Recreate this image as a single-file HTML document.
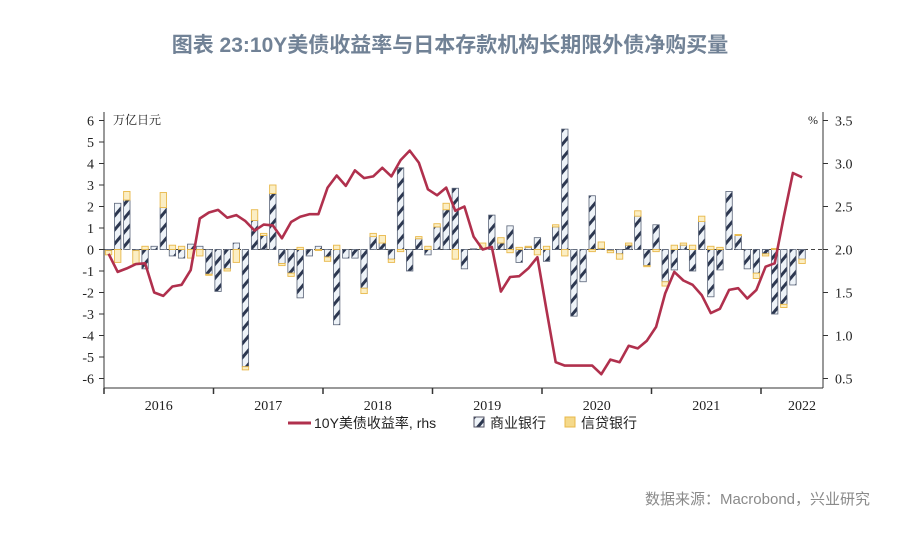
<!DOCTYPE html>
<html><head><meta charset="utf-8"><style>
body{margin:0;background:#fff;width:900px;height:548px;overflow:hidden}
svg{display:block;font-family:"Liberation Serif","Noto Serif CJK SC",serif}
</style></head><body>
<svg id="chart" width="900" height="548">
<defs>
<pattern id="hatch" patternUnits="userSpaceOnUse" width="9" height="9" patternTransform="rotate(40)">
<rect width="9" height="9" fill="#eef3f8"/><rect width="3" height="9" fill="#2c3750"/></pattern>
</defs>
<text x="450" y="52" text-anchor="middle" font-family="'Liberation Sans','Noto Sans CJK SC',sans-serif" font-size="21" font-weight="bold" fill="#718296">图表 23:10Y美债收益率与日本存款机构长期限外债净购买量</text>
<text x="113" y="124" font-size="12" fill="#222">万亿日元</text>
<text x="808" y="124" font-size="12" fill="#222">%</text>
<g id="bars"></g>
<g id="axes"></g>
<path id="yield" fill="none" stroke="#b0304d" stroke-width="2.6" stroke-linejoin="round"/>
<g font-family="'Liberation Sans','Noto Sans CJK SC',sans-serif" font-size="14" fill="#222">
<line x1="288" y1="423" x2="311" y2="423" stroke="#b0304d" stroke-width="3"/>
<text x="314" y="428">10Y美债收益率, rhs</text>
<rect x="474" y="417" width="10" height="10" fill="url(#hatch)" stroke="#556"/>
<text x="490" y="428">商业银行</text>
<rect x="565" y="417" width="10" height="10" fill="#f5d98a" stroke="#e8b84a"/>
<text x="581" y="428">信贷银行</text>
</g>
<text x="870" y="504" text-anchor="end" font-family="'Liberation Sans','Noto Sans CJK SC',sans-serif" font-size="15" fill="#8a8a8a">数据来源：Macrobond，兴业研究</text>
</svg>
<script>
const commercial=[-0.05,2.15,2.3,-0.05,-0.9,0.15,1.95,-0.3,-0.4,0.25,0.15,-1.15,-1.95,-0.9,0.3,-5.45,1.35,0.65,2.6,-0.65,-1.1,-2.25,-0.3,0.15,-0.35,-3.5,-0.4,-0.4,-1.8,0.6,0.3,-0.45,3.8,-1.0,0.5,-0.25,1.05,1.85,2.85,-0.9,0.03,0.05,1.6,0.3,1.1,-0.6,0.1,0.55,-0.55,1.05,5.6,-3.1,-1.5,2.5,0.05,-0.05,-0.2,0.2,1.55,-0.75,1.15,-1.5,-0.95,0.2,-1.0,1.3,-2.2,-0.95,2.7,0.65,-0.9,-1.1,-0.2,-3.0,-2.55,-1.65,-0.45];
const trust=[-0.2,-0.6,0.4,-0.6,0.15,0,0.7,0.2,0.15,-0.4,-0.3,-0.05,0,-0.1,-0.6,-0.15,0.5,0.1,0.4,-0.1,-0.15,0.1,0,-0.05,-0.2,0.2,0,0,-0.25,0.15,0.35,-0.15,-0.1,0,0.1,0.15,0.15,0.3,-0.45,0,0,0.25,0,0.25,-0.15,0.1,0.05,-0.25,0.15,0.1,-0.3,0,0,-0.1,0.3,-0.1,-0.25,0.1,0.25,-0.05,-0.1,-0.2,0.2,0.1,0.2,0.25,0.15,0.1,0,0.05,0,-0.25,-0.1,0.05,-0.15,0,-0.2];
const yieldPct=[1.95,1.74,1.78,1.83,1.84,1.5,1.46,1.57,1.59,1.76,2.36,2.43,2.46,2.37,2.4,2.33,2.22,2.29,2.28,2.13,2.32,2.38,2.41,2.41,2.72,2.86,2.74,2.92,2.83,2.85,2.95,2.85,3.04,3.15,3.01,2.7,2.63,2.72,2.45,2.5,2.15,2.0,2.03,1.51,1.68,1.69,1.78,1.91,1.29,0.69,0.65,0.65,0.65,0.65,0.55,0.72,0.69,0.88,0.85,0.94,1.1,1.49,1.74,1.64,1.59,1.47,1.26,1.31,1.53,1.55,1.43,1.53,1.8,1.84,2.38,2.89,2.84];
const leftTicks=[6,5,4,3,2,1,0,-1,-2,-3,-4,-5,-6];
const rightTicks=["3.5","3.0","2.5","2.0","1.5","1.0","0.5"];
const years=["2016","2017","2018","2019","2020","2021","2022"];
const NS="http://www.w3.org/2000/svg";
const X0=104,X1=823,MW=109.5/12;
const yL=v=>249.5-v*21.5;
const yR=v=>249.5-(v-2)*86;
const xM=i=>X0+MW*(i+0.5);
function mk(tag,attrs,parent){const e=document.createElementNS(NS,tag);for(const k in attrs)e.setAttribute(k,attrs[k]);parent.appendChild(e);return e;}
const bars=document.getElementById('bars'),axes=document.getElementById('axes');
mk('line',{x1:X0,x2:X1,y1:yL(0),y2:yL(0),stroke:'#444','stroke-width':1,'stroke-dasharray':'4,3'},bars);
commercial.forEach((c,i)=>{
 const w=6.4,x=xM(i)-w/2,t=trust[i];
 let r=mk('rect',{x:x,y:Math.min(yL(0),yL(c)),width:w,height:Math.abs(yL(c)-yL(0)),fill:'url(#hatch)',stroke:'#5a6478','stroke-width':0.8},bars);
 
 
 const base=(t>=0)===(c>=0)?c:0;
 const a=yL(base),b=yL(base+t);
 let r2=mk('rect',{x:x,y:Math.min(a,b),width:w,height:Math.abs(a-b),fill:'#fbeec4',stroke:'#e8b84a','stroke-width':0.9},bars);
 
 
});
mk('line',{x1:X0,x2:X0,y1:112,y2:388,stroke:'#333'},axes);
mk('line',{x1:X1,x2:X1,y1:112,y2:388,stroke:'#333'},axes);
mk('line',{x1:X0,x2:X1,y1:388,y2:388,stroke:'#333'},axes);
leftTicks.forEach(v=>{const y=yL(v);mk('line',{x1:X0-5,x2:X0,y1:y,y2:y,stroke:'#333'},axes);
 const t=mk('text',{x:X0-10,y:y+5,'text-anchor':'end','font-size':14,fill:'#222'},axes);t.textContent=v;
 
 });
rightTicks.forEach(v=>{const y=yR(+v);mk('line',{x1:X1,x2:X1+5,y1:y,y2:y,stroke:'#333'},axes);
 const t=mk('text',{x:X1+12,y:y+5,'font-size':14,fill:'#222'},axes);t.textContent=v;
 
 });
years.forEach((yv,k)=>{const x=X0+k*109.5;mk('line',{x1:x,x2:x,y1:388,y2:394,stroke:'#333','stroke-width':1.5},axes);
 const cx=k===years.length-1?(x+X1)/2+10:x+54.75;
 const t=mk('text',{x:cx,y:410,'text-anchor':'middle','font-size':14,fill:'#222'},axes);t.textContent=yv;
 
 });
document.getElementById('yield').setAttribute('d',yieldPct.map((v,i)=>(i?'L':'M')+xM(i).toFixed(1)+','+yR(v).toFixed(1)).join(''));
</script>
</body></html>
